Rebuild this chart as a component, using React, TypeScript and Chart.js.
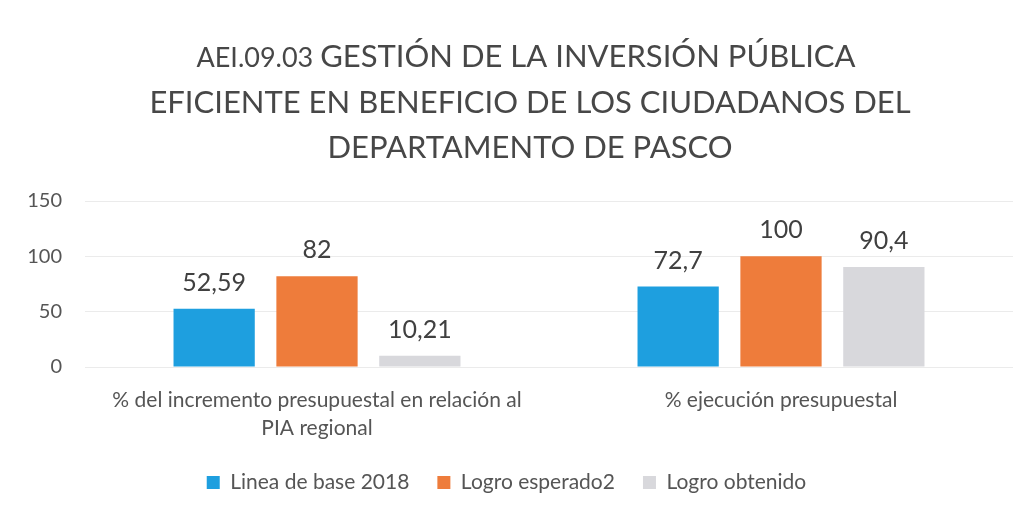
import React, { useEffect, useRef } from "react";
import { Chart, registerables } from "chart.js";

Chart.register(...registerables);

const titlePrefix = "AEI.09.03 ";
const titleLines = [
  "GESTIÓN DE LA INVERSIÓN PÚBLICA",
  "EFICIENTE EN BENEFICIO DE LOS CIUDADANOS DEL",
  "DEPARTAMENTO DE PASCO",
];
const categories = [
  ["% del incremento presupuestal en relación al", "PIA regional"],
  ["% ejecución presupuestal"],
];
const seriesNames = ["Linea de base 2018", "Logro esperado2", "Logro obtenido"];
const lineaBase = [52.59, 72.7];
const logroEsperado = [82, 100];
const logroObtenido = [10.21, 90.4];
const seriesColors = ["#1E9FDF", "#EE7C3B", "#D8D8DC"];
const yTicks = [0, 50, 100, 150];

const FONT = "Lato, 'Open Sans', sans-serif";
const TEXT = "#555555";
const TITLE_COLOR = "#474747";

const titlePlugin = {
  id: "customTitle",
  afterDraw(chart: any) {
    const ctx = chart.ctx;
    const cx = 526;
    const baselines = [67, 113, 158];
    ctx.save();
    ctx.fillStyle = TITLE_COLOR;
    ctx.textBaseline = "alphabetic";
    const bigFont = `31px ${FONT}`;
    const smallFont = `27px ${FONT}`;
    ctx.font = smallFont;
    const wPre = ctx.measureText(titlePrefix).width;
    ctx.font = bigFont;
    const w1 = ctx.measureText(titleLines[0]).width;
    const x = cx - (wPre + w1) / 2;
    ctx.textAlign = "left";
    ctx.font = smallFont;
    ctx.fillText(titlePrefix, x, baselines[0]);
    ctx.font = bigFont;
    ctx.fillText(titleLines[0], x + wPre, baselines[0]);
    ctx.textAlign = "center";
    for (let i = 1; i < titleLines.length; i++) {
      ctx.fillText(titleLines[i], cx + 4, baselines[i]);
    }
    ctx.restore();
  },
};

const dataLabels = {
  id: "dataLabels",
  afterDatasetsDraw(chart: any) {
    const ctx = chart.ctx;
    ctx.save();
    ctx.font = `25px ${FONT}`;
    ctx.fillStyle = "#404040";
    ctx.textAlign = "center";
    ctx.textBaseline = "alphabetic";
    chart.data.datasets.forEach((ds: any, i: number) => {
      const meta = chart.getDatasetMeta(i);
      meta.data.forEach((bar: any, j: number) => {
        const v = ds.data[j];
        const s = String(v).replace(".", ",");
        ctx.fillText(s, bar.x, bar.y - 18);
      });
    });
    ctx.restore();
  },
};

export default function App() {
  const ref = useRef<HTMLCanvasElement>(null);
  useEffect(() => {
    const values = [lineaBase, logroEsperado, logroObtenido];
    const chart = new Chart(ref.current!, {
      type: "bar",
      data: {
        labels: categories as any,
        datasets: seriesNames.map((n, i) => ({
          label: n,
          data: values[i],
          backgroundColor: seriesColors[i],
          barPercentage: 0.79,
          categoryPercentage: 0.665,
        })),
      },
      options: {
        animation: false,
        responsive: false,
        layout: { padding: { left: 0, right: 17, top: 201, bottom: 13 } },
        plugins: {
          title: { display: false },
          legend: {
            position: "bottom",
            labels: {
              color: TEXT,
              font: { family: FONT, size: 21 },
              boxWidth: 13,
              boxHeight: 13,
              padding: 28,
            },
          },
          tooltip: { enabled: false },
        },
        scales: {
          x: {
            afterFit: (s: any) => {
              s.height = 77;
            },
            grid: { display: false },
            border: { display: false },
            ticks: {
              color: TEXT,
              font: { family: FONT, size: 21, lineHeight: 1.34 },
              padding: 11,
              maxRotation: 0,
              autoSkip: false,
            },
          },
          y: {
            min: 0,
            max: 150,
            afterFit: (s: any) => {
              s.width = 85;
            },
            afterBuildTicks: (s: any) => {
              s.ticks = yTicks.map((v) => ({ value: v }));
            },
            grid: { color: "#EBEBEB", drawTicks: false },
            border: { display: false },
            ticks: {
              color: TEXT,
              font: { family: FONT, size: 20 },
              padding: 23,
            },
          },
        },
      },
      plugins: [dataLabels, titlePlugin],
    });
    return () => chart.destroy();
  }, []);
  return (
    <div style={{ position: "fixed", left: 0, top: 0, width: 1030, height: 516, background: "#fff" }}>
      <canvas ref={ref} width={1030} height={516} />
    </div>
  );
}
